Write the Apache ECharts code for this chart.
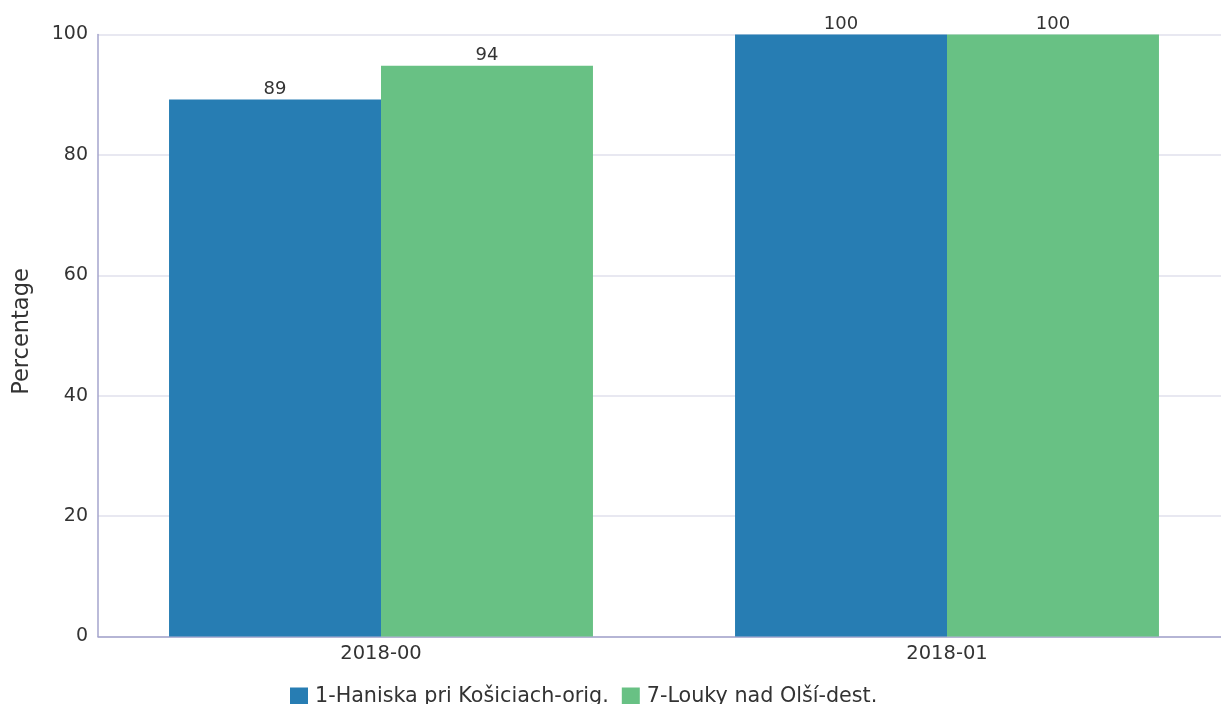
<!DOCTYPE html>
<html><head><meta charset="utf-8">
<script src="https://cdn.jsdelivr.net/npm/echarts@6/dist/echarts.min.js"></script>
<style>html,body{margin:0;padding:0;background:#fff}#c{width:1221px;height:704px}</style>
</head><body><div id="c"></div>
<script>
const categories = ['2018-00', '2018-01'];
const seriesNames = ['1-Haniska pri Košiciach-orig.', '7-Louky nad Olší-dest.'];
const origValues = [89.2, 100];
const destValues = [94.8, 100];
const yTicks = [0, 20, 40, 60, 80, 100];

const chart = echarts.init(document.getElementById('c'), null, {renderer: 'canvas'});
const font = 'DejaVu Sans';
const lbl = {
  show: true, position: 'top', distance: 1,
  fontFamily: font, fontSize: 18, color: '#333',
  formatter: p => String(Math.floor(p.value))
};
chart.setOption({
  animation: false,
  textStyle: {fontFamily: font},
  grid: {left: 98, width: 1132, top: 34.5, bottom: 67.5, containLabel: false, outerBoundsMode: 'none'},
  legend: {
    top: 686, left: 290, itemWidth: 18, itemHeight: 18, itemGap: 13,
    icon: 'rect', padding: 0,
    textStyle: {fontFamily: font, fontSize: 20.7, color: '#333', padding: [0, 0, 0, 2]},
    data: seriesNames
  },
  xAxis: {
    type: 'category', data: categories,
    axisLine: {lineStyle: {color: '#a4a4cc', width: 1.5}},
    axisTick: {show: false},
    axisLabel: {fontFamily: font, fontSize: 19.5, color: '#333', margin: 7}
  },
  yAxis: {
    type: 'value', min: yTicks[0], max: yTicks[yTicks.length - 1], interval: 20,
    name: 'Percentage', nameLocation: 'middle', nameGap: 64, nameRotate: 90,
    nameTextStyle: {fontFamily: font, fontSize: 22.5, color: '#333', padding: [0, 0, 0, 8]},
    axisLine: {show: true, lineStyle: {color: '#a4a4cc', width: 1.5}},
    axisTick: {show: false},
    axisLabel: {fontFamily: font, fontSize: 19, color: '#333', margin: 10},
    splitLine: {lineStyle: {color: '#e0e0ec', width: 1.5}}
  },
  series: [
    {name: seriesNames[0], type: 'bar', data: origValues, barGap: '0%', barCategoryGap: '25.1%',
     itemStyle: {color: '#277db3'}, label: lbl},
    {name: seriesNames[1], type: 'bar', data: destValues, barGap: '0%', barCategoryGap: '25.1%',
     itemStyle: {color: '#68c184'}, label: lbl}
  ]
});
</script></body></html>
